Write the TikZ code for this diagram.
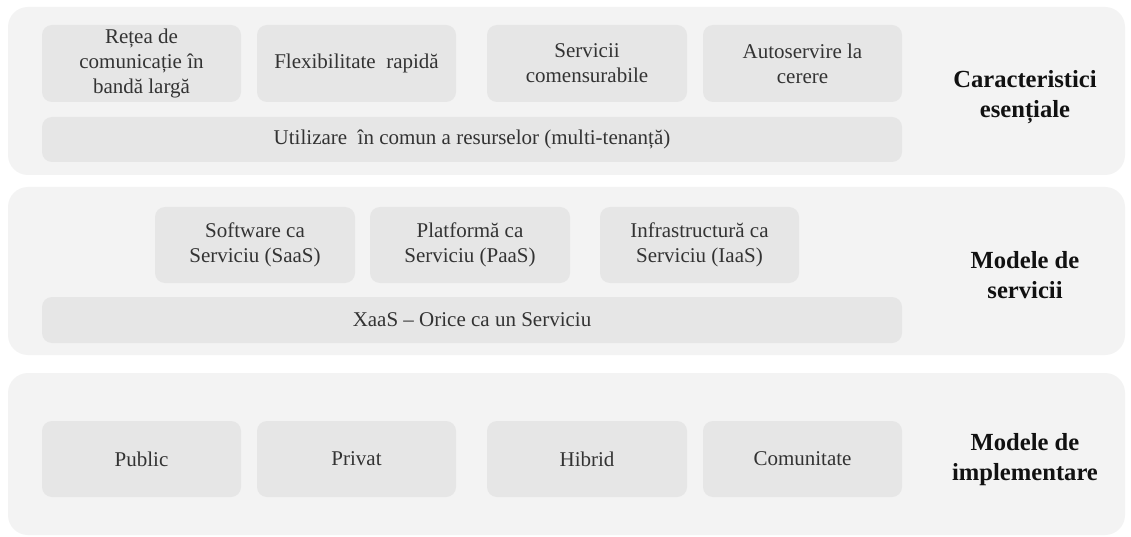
\documentclass[tikz,border=0pt]{standalone}
\usepackage{fontspec}
\setmainfont{Liberation Serif}[Ligatures=TeX]
\newfontfamily\tnr{Liberation Serif}
\definecolor{panelgray}{HTML}{F3F3F3}
\definecolor{boxgray}{HTML}{E6E6E6}
\definecolor{txtgray}{HTML}{333333}
\definecolor{lblblack}{HTML}{111111}
\begin{document}
\begin{tikzpicture}[x=1pt,y=-1pt,
  panel/.style={fill=panelgray, draw=none, rounded corners=20pt},
  itembox/.style={fill=boxgray, draw=none, rounded corners=10pt, align=center,
    text=txtgray, inner sep=0pt, font=\tnr\fontsize{21}{25}\selectfont},
  sidelabel/.style={align=center, text=lblblack, inner sep=0pt,
    font=\tnr\fontsize{24.6}{30}\selectfont\bfseries}]
\useasboundingbox (0,0) rectangle (1131,537);
\fill[white] (0,0) rectangle (1131,537);

% panels
\path[panel] (8,7) rectangle (1125,175);
\path[panel] (8,187) rectangle (1125,355);
\path[panel] (8,373) rectangle (1125,535);

% panel 1
\node[itembox, minimum width=199pt, minimum height=77pt] (retea) at (141.5,63.5) {Rețea de\\comunicație în\\bandă largă};
\node[itembox, minimum width=199pt, minimum height=77pt] (flex) at (356.5,63.5) {Flexibilitate\ \ rapidă};
\node[itembox, minimum width=200pt, minimum height=77pt] (serv) at (587,63.5) {Servicii\\comensurabile};
\node[itembox, minimum width=199pt, minimum height=77pt] (auto) at (802.5,63.5) {Autoservire la\\cerere};
\node[itembox, minimum width=860pt, minimum height=45pt] (util) at (472,139.5) {Utilizare\ \ în comun a resurselor (multi-tenanță)};
\node[sidelabel] (lbl1) at (1025,97) {Caracteristici\\esențiale};

% panel 2
\node[itembox, minimum width=200pt, minimum height=76pt] (saas) at (255,245) {Software ca\\Serviciu (SaaS)};
\node[itembox, minimum width=200pt, minimum height=76pt] (paas) at (470,245) {Platformă ca\\Serviciu (PaaS)};
\node[itembox, minimum width=199pt, minimum height=76pt] (iaas) at (699.5,245) {Infrastructură ca\\Serviciu (IaaS)};
\node[itembox, minimum width=860pt, minimum height=46pt] (xaas) at (472,320) {XaaS – Orice ca un Serviciu};
\node[sidelabel] (lbl2) at (1025,275.5) {Modele de\\servicii};

% panel 3
\node[itembox, minimum width=199pt, minimum height=76pt] (public) at (141.5,459) {Public};
\node[itembox, minimum width=199pt, minimum height=76pt] (privat) at (356.5,459) {Privat};
\node[itembox, minimum width=200pt, minimum height=76pt] (hibrid) at (587,459) {Hibrid};
\node[itembox, minimum width=199pt, minimum height=76pt] (comun) at (802.5,459) {Comunitate};
\node[sidelabel] (lbl3) at (1025,460) {Modele de\\implementare};
\end{tikzpicture}
\end{document}
